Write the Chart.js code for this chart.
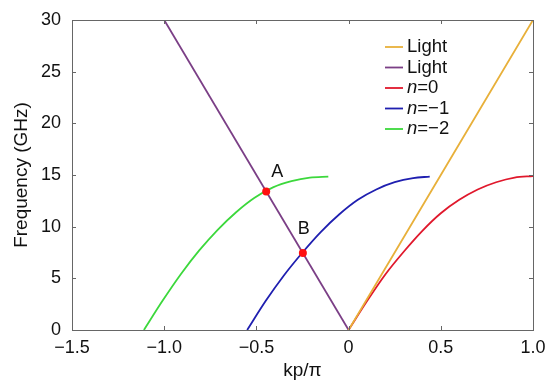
<!DOCTYPE html>
<html>
<head>
<meta charset="utf-8">
<style>
  html, body { margin: 0; padding: 0; background: #fff; }
  #wrap { width: 546px; height: 383px; }
</style>
<script src="https://cdn.jsdelivr.net/npm/chart.js@4.4.1/dist/chart.umd.min.js"></script>
</head>
<body>
<div id="wrap"><canvas id="chart"></canvas></div>
<script>
// light lines
const lightPosX = [0, 1.0];
const lightPosY = [0, 30];
const lightNegX = [0, -1.0];
const lightNegY = [0, 30];

// n = 0
const n0X = [0, 0.1, 0.2, 0.3, 0.4, 0.5, 0.6, 0.7, 0.8, 0.9, 1.0];
const n0Y = [0, 2.8, 5.4, 7.6, 9.6, 11.3, 12.6, 13.6, 14.3, 14.75, 14.9];

// n = -1
const n1X = [-0.55, -0.45, -0.35, -0.25, -0.15, -0.05, 0.05, 0.15, 0.25, 0.35, 0.44];
const n1Y = [0, 2.8, 5.3, 7.5, 9.5, 11.2, 12.6, 13.6, 14.3, 14.7, 14.85];

// n = -2
const n2X = [-1.11, -1.01, -0.91, -0.81, -0.71, -0.61, -0.51, -0.41, -0.31, -0.21, -0.11];
const n2Y = [0, 2.8, 5.4, 7.7, 9.7, 11.4, 12.8, 13.8, 14.4, 14.75, 14.85];

// intersection points A, B
const markLabels = ["A", "B"];
const markX = [-0.447, -0.248];
const markY = [13.4, 7.45];

const legendLabels = ["Light", "Light", "n=0", "n=−1", "n=−2"];
const colors = ["#e8b03a", "#7b3f86", "#e0182c", "#1f1fb0", "#3cd83c"];

const FONT = "'Liberation Sans', Arial, sans-serif";

function pts(xs, ys) {
  return xs.map((x, i) => ({ x: x, y: ys[i] }));
}

function lineSet(label, xs, ys, color) {
  return {
    label: label,
    data: pts(xs, ys),
    showLine: true,
    borderColor: color,
    backgroundColor: color,
    borderWidth: 1.8,
    pointRadius: 0,
    cubicInterpolationMode: "monotone",
  };
}

const framePlugin = {
  id: "frame",
  afterDraw(chart) {
    const { ctx, chartArea: a, scales } = chart;
    ctx.save();
    ctx.strokeStyle = "#666";
    ctx.lineWidth = 1;
    ctx.strokeRect(a.left + 0.5, a.top + 0.5, a.right - a.left, a.bottom - a.top);
    const tl = 4;
    ctx.beginPath();
    scales.x.ticks.forEach((t) => {
      const px = Math.round(scales.x.getPixelForValue(t.value)) + 0.5;
      ctx.moveTo(px, a.bottom); ctx.lineTo(px, a.bottom - tl);
      ctx.moveTo(px, a.top); ctx.lineTo(px, a.top + tl);
    });
    scales.y.ticks.forEach((t) => {
      const py = Math.round(scales.y.getPixelForValue(t.value)) + 0.5;
      ctx.moveTo(a.left, py); ctx.lineTo(a.left + tl, py);
      ctx.moveTo(a.right, py); ctx.lineTo(a.right - tl, py);
    });
    ctx.stroke();

    // A / B labels
    ctx.fillStyle = "#111";
    ctx.font = "18px " + FONT;
    ctx.textAlign = "center";
    ctx.textBaseline = "middle";
    const offs = [[11, -20], [1, -24]];
    markLabels.forEach((s, i) => {
      const px = scales.x.getPixelForValue(markX[i]);
      const py = scales.y.getPixelForValue(markY[i]);
      ctx.fillText(s, px + offs[i][0], py + offs[i][1]);
    });

    // legend
    const lx = 385, ly = 47, gap = 20.5;
    ctx.textAlign = "left";
    chart.data.datasets.slice(1).forEach((ds, i) => {
      const y = ly + i * gap;
      ctx.strokeStyle = ds.borderColor;
      ctx.lineWidth = 1.8;
      ctx.beginPath();
      ctx.moveTo(lx, y); ctx.lineTo(lx + 18, y);
      ctx.stroke();
      ctx.fillStyle = "#111";
      let tx = lx + 22;
      let txt = ds.label;
      if (txt.startsWith("n=")) {
        ctx.font = "italic 18.5px " + FONT;
        ctx.fillText("n", tx, y);
        tx += ctx.measureText("n").width;
        txt = txt.slice(1);
      }
      ctx.font = "18.5px " + FONT;
      ctx.fillText(txt, tx, y);
    });
    ctx.restore();
  },
};

const datasets = [
  {
    label: "points",
    data: pts(markX, markY),
    pointRadius: 4,
    pointBackgroundColor: "#ff1010",
    pointBorderWidth: 0,
    showLine: false,
  },
  lineSet(legendLabels[0], lightPosX, lightPosY, colors[0]),
  lineSet(legendLabels[1], lightNegX, lightNegY, colors[1]),
  lineSet(legendLabels[2], n0X, n0Y, colors[2]),
  lineSet(legendLabels[3], n1X, n1Y, colors[3]),
  lineSet(legendLabels[4], n2X, n2Y, colors[4]),
];

new Chart(document.getElementById("chart"), {
  type: "scatter",
  data: { datasets: datasets },
  options: {
    animation: false,
    responsive: true,
    maintainAspectRatio: false,
    layout: { padding: { left: 0, right: 13, top: 20, bottom: 0 } },
    plugins: {
      legend: { display: false },
      tooltip: { enabled: false },
    },
    scales: {
      x: {
        type: "linear",
        min: -1.5,
        max: 1.0,
        grid: { display: false, drawTicks: false },
        border: { display: false },
        ticks: {
          stepSize: 0.5,
          padding: 7,
          color: "#111",
          font: { family: FONT, size: 18 },
          callback: (v) => (v === 0 ? "0" : v.toFixed(1).replace("-", "−")),
        },
        title: {
          display: true,
          text: "kp/π",
          color: "#111",
          font: { family: FONT, size: 19 },
          padding: { top: 0, bottom: 1 },
        },
        afterFit: (s) => {
          s.height = 53;
          s.paddingLeft = 0;
          s.paddingRight = 0;
        },
      },
      y: {
        min: 0,
        max: 30,
        grid: { display: false, drawTicks: false },
        border: { display: false },
        ticks: {
          stepSize: 5,
          padding: 11,
          color: "#111",
          font: { family: FONT, size: 18 },
        },
        title: {
          display: true,
          text: "Frequency (GHz)",
          color: "#111",
          font: { family: FONT, size: 19 },
          padding: { top: 10, bottom: 0 },
        },
        afterFit: (s) => {
          s.width = 72;
          s.paddingTop = 0;
          s.paddingBottom = 0;
        },
      },
    },
  },
  plugins: [framePlugin],
});
</script>
</body>
</html>
